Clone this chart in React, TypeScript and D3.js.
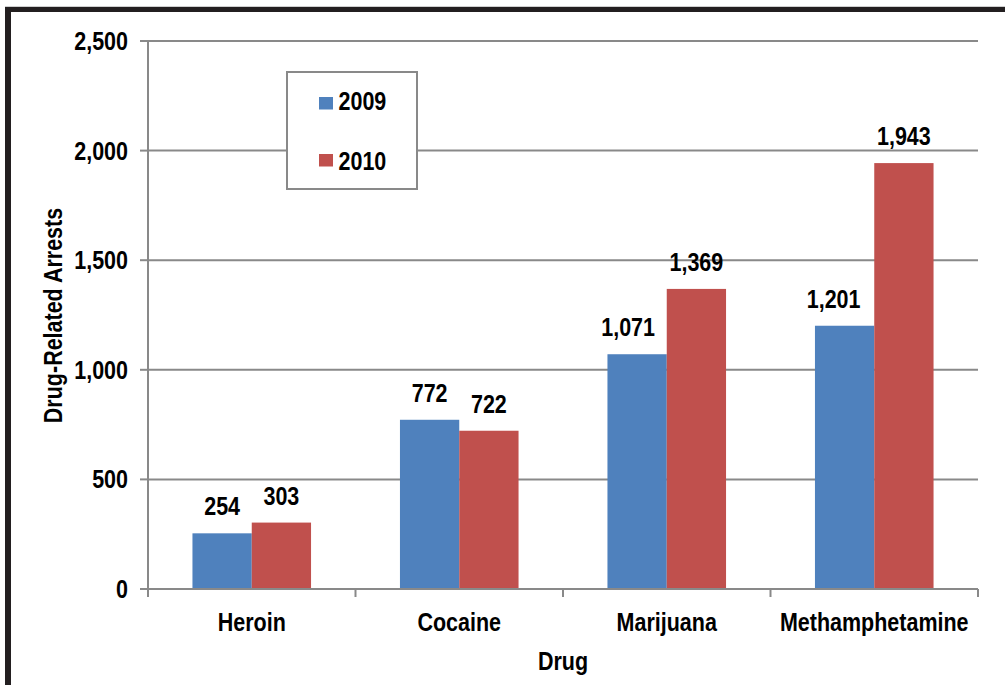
import React from "react";
import * as d3 from "d3";

const categories = ["Heroin", "Cocaine", "Marijuana", "Methamphetamine"];
const seriesNames = ["2009", "2010"];
const values2009 = [254, 772, 1071, 1201];
const values2010 = [303, 722, 1369, 1943];
const yTicks = [0, 500, 1000, 1500, 2000, 2500];
const colors = ["#4F81BD", "#C0504D"];
// small label nudges (x) for 2009 labels, as in reference
const labelNudge2009 = [0, 0, -9, -11];

const W = 1005;
const H = 685;
const FONT = "'Liberation Sans', Arial, sans-serif";
const GRID = "#898989";
const NARROW = 0.86;

function NText(props: { x: number; y: number; anchor?: string; rotate?: number; size?: number; children: React.ReactNode }) {
  const { x, y, anchor = "start", rotate = 0, size = 25, children } = props;
  return (
    <g transform={`translate(${x},${y}) rotate(${rotate}) scale(${NARROW},1)`}>
      <text x={0} y={0} textAnchor={anchor} fontSize={size} fill="#000">
        {children}
      </text>
    </g>
  );
}

export default function App() {
  const left = 148, right = 978, top = 41, bottom = 589;
  const x = d3.scaleBand<string>().domain(categories).range([left, right]).paddingInner(0.4285).paddingOuter(0.21425);
  const xs = d3.scaleBand<string>().domain(seriesNames).range([0, x.bandwidth()]);
  const y = d3.scaleLinear().domain([0, 2500]).range([bottom, top]);
  const series = [values2009, values2010];
  const step = x.step();
  const boundaries = d3.range(categories.length + 1).map((i) => left + step * i);
  const fmt = d3.format(",");

  return (
    <svg width={W} height={H} style={{ position: "absolute", left: 0, top: 0, background: "#fff" }} fontFamily={FONT} fontWeight="bold">
      <rect x={0} y={0} width={W} height={H} fill="#fff" />
      {/* frame */}
      <rect x={5} y={6} width={W - 5} height={1} fill="#cfcfcf" />
      <rect x={5} y={7} width={W - 5} height={5} fill="#231f20" />
      <rect x={5} y={7} width={6} height={H - 7} fill="#231f20" />

      {/* gridlines */}
      {yTicks.filter((t) => t > 0).map((t) => (
        <line key={t} x1={left} x2={right} y1={y(t)} y2={y(t)} stroke={GRID} strokeWidth={2} />
      ))}

      {/* bars */}
      {categories.map((c, i) => (
        <g key={c}>
          {series.map((vals, s) => (
            <rect key={s} x={(x(c) as number) + (xs(seriesNames[s]) as number)} y={y(vals[i])} width={xs.bandwidth()} height={y(0) - y(vals[i])} fill={colors[s]} />
          ))}
        </g>
      ))}

      {/* axes */}
      <line x1={left} x2={left} y1={top} y2={bottom + 8} stroke={GRID} strokeWidth={2} />
      <line x1={left - 8} x2={right} y1={bottom} y2={bottom} stroke={GRID} strokeWidth={2} />
      {yTicks.map((t) => (
        <line key={"yt" + t} x1={left - 8} x2={left} y1={y(t)} y2={y(t)} stroke={GRID} strokeWidth={2} />
      ))}
      {boundaries.map((bx, i) => (
        <line key={"xt" + i} x1={bx} x2={bx} y1={bottom} y2={bottom + 8} stroke={GRID} strokeWidth={2} />
      ))}

      {/* y tick labels */}
      {yTicks.map((t) => (
        <NText key={"yl" + t} x={128} y={y(t) + 9} anchor="end">{fmt(t)}</NText>
      ))}

      {/* data labels */}
      {categories.map((c, i) => (
        <g key={"dl" + c}>
          {series.map((vals, s) => (
            <NText key={s} x={(x(c) as number) + (xs(seriesNames[s]) as number) + xs.bandwidth() / 2 + (s === 0 ? labelNudge2009[i] : 0)} y={y(vals[i]) - 18} anchor="middle">
              {fmt(vals[i])}
            </NText>
          ))}
        </g>
      ))}

      {/* category labels */}
      {categories.map((c) => (
        <NText key={"cl" + c} x={(x(c) as number) + x.bandwidth() / 2} y={631} anchor="middle">{c}</NText>
      ))}

      {/* axis titles */}
      <NText x={(left + right) / 2} y={670} anchor="middle">Drug</NText>
      <NText x={62} y={315.5} rotate={-90} anchor="middle">Drug-Related Arrests</NText>

      {/* legend */}
      <rect x={287} y={72} width={130} height={117} fill="#fff" stroke={GRID} strokeWidth={2} />
      {seriesNames.map((n, s) => (
        <g key={"lg" + n}>
          <rect x={319} y={97 + s * 57} width={14} height={12.5} fill={colors[s]} />
          <NText x={338.5} y={110 + s * 60}>{n}</NText>
        </g>
      ))}
    </svg>
  );
}
